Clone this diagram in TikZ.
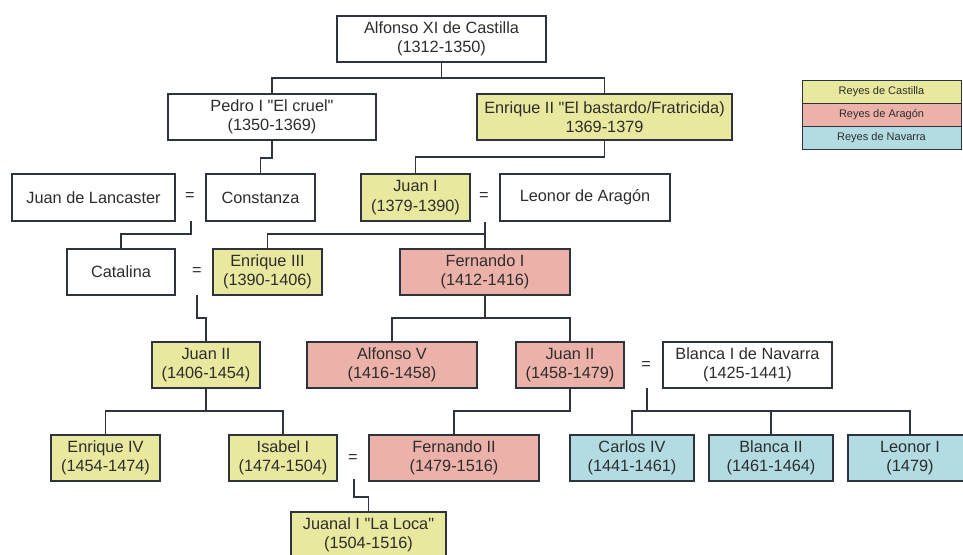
\documentclass[tikz,border=0pt]{standalone}
\usepackage{fontspec}
\setmainfont{Liberation Sans}
\definecolor{cast}{RGB}{232,232,158}
\definecolor{arag}{RGB}{236,178,170}
\definecolor{nav}{RGB}{178,220,226}
\definecolor{edge}{RGB}{45,52,62}
\definecolor{txt}{RGB}{45,45,45}
\newcommand{\qq}{\textquotedbl}
\begin{document}
\begin{tikzpicture}[x=1pt,y=-1pt,
  box/.style={draw=edge,line width=1.3pt,fill=white,inner sep=0pt,align=center,
    text=txt,font=\fontsize{16.3}{19.5}\selectfont},
  eqs/.style={inner sep=0pt,text=txt,font=\fontsize{16.3}{19.5}\selectfont},
  leg/.style={draw=edge,line width=1pt,inner sep=0pt,minimum width=159pt,minimum height=23pt,
    text=txt,font=\fontsize{11}{12}\selectfont},
  conn/.style={draw=edge,line width=1.2pt}]
\useasboundingbox (0,0) rectangle (963,554);
% row 1
\node[box,minimum width=209pt,minimum height=46pt] (alf) at (441.5,39) {Alfonso XI de Castilla\\(1312-1350)};
% row 2
\node[box,minimum width=208pt,minimum height=46pt] (ped) at (272,117) {Pedro I \qq El cruel\qq\\(1350-1369)};
\node[box,fill=cast,minimum width=255pt,minimum height=46pt] (enr2) at (604.5,117) {Enrique II \qq El bastardo/Fratricida)\\1369-1379};
% row 3
\node[box,minimum width=163pt,minimum height=47pt] (lan) at (93.5,197.5) {Juan de Lancaster};
\node[eqs] (eq1) at (190,197) {=};
\node[box,minimum width=109pt,minimum height=47pt] (con) at (260.5,197.5) {Constanza};
\node[box,fill=cast,minimum width=109pt,minimum height=47pt] (jua1) at (415.5,197.5) {Juan I\\(1379-1390)};
\node[eqs] (eq2) at (484,197) {=};
\node[box,minimum width=170pt,minimum height=47pt] (leo) at (585,197.5) {Leonor de Aragón};
% row 4
\node[box,minimum width=108pt,minimum height=46pt] (cat) at (121,272) {Catalina};
\node[eqs] (eq3) at (197,272) {=};
\node[box,fill=cast,minimum width=109pt,minimum height=46pt] (enr3) at (267.5,272) {Enrique III\\(1390-1406)};
\node[box,fill=arag,minimum width=170pt,minimum height=46pt] (fer1) at (485,272) {Fernando I\\(1412-1416)};
% row 5
\node[box,fill=cast,minimum width=108pt,minimum height=46pt] (jua2c) at (206,365) {Juan II\\(1406-1454)};
\node[box,fill=arag,minimum width=170pt,minimum height=46pt] (alf5) at (392,365) {Alfonso V\\(1416-1458)};
\node[box,fill=arag,minimum width=108pt,minimum height=46pt] (jua2a) at (570,365) {Juan II\\(1458-1479)};
\node[eqs] (eq4) at (646,365) {=};
\node[box,minimum width=169pt,minimum height=46pt] (bla1) at (747.5,365) {Blanca I de Navarra\\(1425-1441)};
% row 6
\node[box,fill=cast,minimum width=109pt,minimum height=46pt] (enr4) at (105.5,458) {Enrique IV\\(1454-1474)};
\node[box,fill=cast,minimum width=108pt,minimum height=46pt] (isa) at (283,458) {Isabel I\\(1474-1504)};
\node[eqs] (eq5) at (353,458) {=};
\node[box,fill=arag,minimum width=170pt,minimum height=46pt] (fer2) at (454,458) {Fernando II\\(1479-1516)};
\node[box,fill=nav,minimum width=124pt,minimum height=46pt] (car) at (632,458) {Carlos IV\\(1441-1461)};
\node[box,fill=nav,minimum width=124pt,minimum height=46pt] (bla2) at (771,458) {Blanca II\\(1461-1464)};
\node[box,fill=nav,minimum width=124pt,minimum height=46pt] (leo1) at (910,458) {Leonor I\\(1479)};
% row 7
\node[box,fill=cast,minimum width=155pt,minimum height=46pt] (juana) at (368.5,535) {Juanal I \qq La Loca\qq\\(1504-1516)};
% legend
\node[leg,fill=cast] (lg1) at (881.5,91.5) {Reyes de Castilla};
\node[leg,fill=arag] (lg2) at (881.5,114.5) {Reyes de Aragón};
\node[leg,fill=nav] (lg3) at (881.5,137.5) {Reyes de Navarra};
% connectors
\coordinate (b1) at (441.5,78);
\draw[conn] (alf.south) -- (b1);
\draw[conn] (ped.north) |- (b1) -| (enr2.north);
\coordinate (b2) at (272,158);
\draw[conn] (ped.south) -- (b2) -| (con.north);
\coordinate (b3) at (604.5,157);
\draw[conn] (enr2.south) -- (b3) -| (jua1.north);
\coordinate (m1) at (191,221);
\coordinate (b4) at (191,234);
\draw[conn] (m1) -- (b4) -| (cat.north);
\coordinate (m2) at (485,222);
\coordinate (b5) at (485,234);
\draw[conn] (m2) -- (fer1.north);
\draw[conn] (enr3.north) |- (b5);
\coordinate (m3) at (197,295);
\coordinate (b6) at (197,318);
\draw[conn] (m3) -- (b6) -| (jua2c.north);
\coordinate (b7) at (485,318);
\draw[conn] (fer1.south) -- (b7);
\draw[conn] (alf5.north) |- (b7) -| (jua2a.north);
\coordinate (b8) at (206,411);
\draw[conn] (jua2c.south) -- (b8);
\draw[conn] (enr4.north) |- (b8) -| (isa.north);
\coordinate (b9) at (570,411);
\draw[conn] (jua2a.south) -- (b9) -| (fer2.north);
\coordinate (m4) at (647,388);
\coordinate (b10) at (647,411);
\draw[conn] (m4) -- (b10);
\draw[conn] (car.north) |- (b10) -| (leo1.north);
\draw[conn] (b10) -| (bla2.north);
\coordinate (m5) at (354,479);
\coordinate (b11) at (354,497);
\draw[conn] (m5) -- (b11) -| (juana.north);
\end{tikzpicture}
\end{document}
